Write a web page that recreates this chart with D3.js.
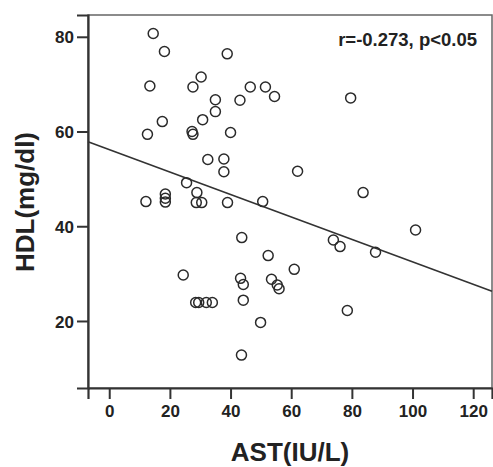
<!DOCTYPE html>
<html>
<head>
<meta charset="utf-8">
<script src="https://cdn.jsdelivr.net/npm/d3@7"></script>
<style>
  html, body { margin: 0; padding: 0; background: #fff; }
  svg text { font-family: "Liberation Sans", Arial, sans-serif; font-weight: bold; fill: #222; }
</style>
</head>
<body>
<div id="chart"></div>
<script>
// AST (IU/L) values, one per subject
const astValues = [14.5, 18.2, 38.9, 13.4, 27.6, 30.3, 46.5, 51.5, 54.5, 79.6,
  35.0, 43.1, 35.0, 30.8, 17.5, 12.6, 27.3, 27.6, 40.0, 32.5,
  37.8, 37.8, 62.1, 25.5, 28.9, 83.7, 12.1, 18.5, 18.5, 18.5,
  28.7, 30.5, 39.0, 50.6, 101.0, 43.7, 73.9, 76.1, 87.8, 52.4,
  61.0, 24.4, 43.3, 44.2, 53.5, 55.4, 56.0, 44.2, 28.5, 29.5,
  32.0, 34.0, 78.5, 49.9, 43.6];
// HDL (mg/dl) values, same order
const hdlValues = [80.7, 76.9, 76.4, 69.6, 69.4, 71.5, 69.4, 69.4, 67.4, 67.1,
  66.7, 66.6, 64.2, 62.5, 62.1, 59.4, 60.0, 59.4, 59.8, 54.1,
  54.2, 51.5, 51.6, 49.2, 47.1, 47.1, 45.2, 46.8, 45.9, 45.1,
  45.0, 45.0, 45.0, 45.2, 39.2, 37.6, 37.1, 35.7, 34.5, 33.8,
  30.9, 29.7, 29.0, 27.7, 28.8, 27.6, 26.8, 24.4, 23.9, 23.9,
  23.9, 23.9, 22.2, 19.7, 12.8];
const xTicks = [0, 20, 40, 60, 80, 100, 120];
const yTicks = [20, 40, 60, 80];
const fitLine = { intercept: 56.2, slope: -0.237 };
const annotation = "r=-0.273, p<0.05";

const W = 493, H = 467;
const margin = { top: 15, right: 1, bottom: 79, left: 88 };

const svg = d3.select("#chart").append("svg")
  .attr("width", W).attr("height", H);

const x = d3.scaleLinear().domain([-7, 126.2]).range([margin.left, W - margin.right]);
const y = d3.scaleLinear().domain([5.85, 84.6]).range([H - margin.bottom, margin.top]);

// plot frame
svg.append("rect")
  .attr("x", margin.left).attr("y", margin.top)
  .attr("width", W - margin.right - margin.left)
  .attr("height", H - margin.bottom - margin.top)
  .attr("fill", "#fff").attr("stroke", "#666").attr("stroke-width", 1.5);

// axes
const xAxis = svg.append("g")
  .attr("transform", "translate(0," + (H - margin.bottom) + ")")
  .call(d3.axisBottom(x).tickValues(xTicks).tickSize(11).tickPadding(6));
const yAxis = svg.append("g")
  .attr("transform", "translate(" + margin.left + ",0)")
  .call(d3.axisLeft(y).tickValues(yTicks).tickSize(11).tickPadding(3));

[xAxis, yAxis].forEach(function (g) {
  g.select(".domain").attr("stroke", "#333").attr("stroke-width", 2.2);
  g.selectAll(".tick line").attr("stroke", "#333").attr("stroke-width", 2);
  g.selectAll(".tick text")
    .attr("font-size", 17).attr("font-weight", "bold")
    .attr("font-family", "Liberation Sans, Arial, sans-serif")
    .attr("fill", "#222");
});
yAxis.selectAll(".tick text").attr("dy", "0.36em");

// regression line
const xd = x.domain();
svg.append("line")
  .attr("x1", x(xd[0])).attr("y1", y(fitLine.intercept + fitLine.slope * xd[0]))
  .attr("x2", x(xd[1])).attr("y2", y(fitLine.intercept + fitLine.slope * xd[1]))
  .attr("stroke", "#333").attr("stroke-width", 1.6);

// points
svg.append("g")
  .selectAll("circle")
  .data(d3.range(astValues.length))
  .join("circle")
    .attr("cx", i => x(astValues[i]))
    .attr("cy", i => y(hdlValues[i]))
    .attr("r", 5)
    .attr("fill", "none")
    .attr("stroke", "#2a2a2a")
    .attr("stroke-width", 1.5);

// annotation
svg.append("text")
  .attr("x", 477).attr("y", 46)
  .attr("text-anchor", "end")
  .attr("font-size", 18.5)
  .text(annotation);

// axis titles
svg.append("text")
  .attr("x", 290).attr("y", 461)
  .attr("text-anchor", "middle")
  .attr("font-size", 26)
  .text("AST(IU/L)");

svg.append("text")
  .attr("transform", "translate(34,202) rotate(-90)")
  .attr("text-anchor", "middle")
  .attr("font-size", 26)
  .text("HDL(mg/dl)");
</script>
</body>
</html>
